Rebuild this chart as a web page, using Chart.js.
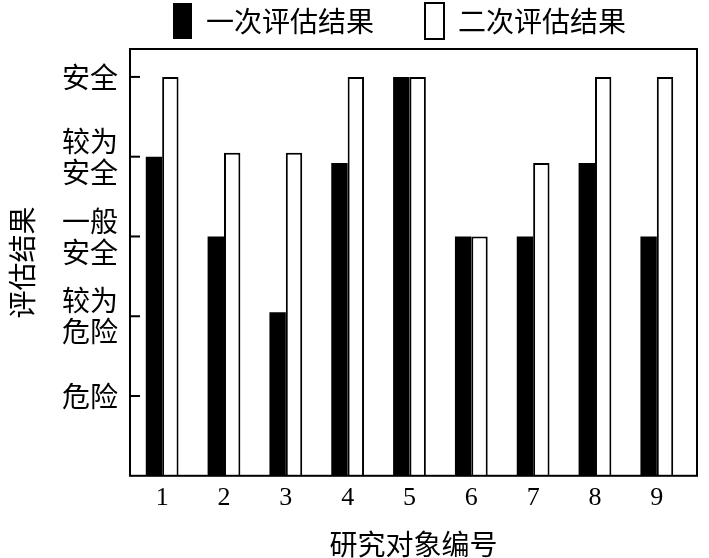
<!DOCTYPE html>
<html>
<head>
<meta charset="utf-8">
<script src="https://cdn.jsdelivr.net/npm/chart.js"></script>
<style>
    body { margin: 0; background: #fff; }
    #wrap { width: 709px; height: 558px; }
</style>
</head>
<body>
<div id="wrap"><canvas id="chart" width="709" height="558"></canvas></div>
<script>
// data
const categories = ['1', '2', '3', '4', '5', '6', '7', '8', '9'];
const firstEval = [4, 3, 2.05, 3.92, 5, 3, 3, 3.92, 3];
const secondEval = [5, 4.05, 4.05, 5, 5, 3, 3.92, 5, 5];
const levelLabels = ['危险', ['较为', '危险'], ['一般', '安全'], ['较为', '安全'], '安全'];
const seriesNames = ['一次评估结果', '二次评估结果'];

const cjk = '"Noto Sans CJK SC", "Noto Sans", sans-serif';

// plot frame + tick marks pointing into the plot
const framePlugin = {
    id: 'frame',
    afterLayout(chart) {
        // legend sits a bit left of the plot's centre in the original
        chart.legend.left += 51;
        chart.legend.right += 51;
    },
    afterDraw(chart) {
        const { ctx, chartArea } = chart;
        const y = chart.scales.y;
        ctx.save();
        ctx.strokeStyle = '#000';
        ctx.lineWidth = 2;
        ctx.strokeRect(chartArea.left, chartArea.top, chartArea.right - chartArea.left, chartArea.bottom - chartArea.top);
        y.ticks.forEach((t) => {
            const py = y.getPixelForValue(t.value);
            ctx.beginPath();
            ctx.moveTo(chartArea.left, py);
            ctx.lineTo(chartArea.left + 10, py);
            ctx.stroke();
        });
        ctx.restore();
    },
};

const toPoints = (vals) => vals.map((v, i) => ({ x: Number(categories[i]), y: v }));

new Chart(document.getElementById('chart').getContext('2d'), {
    type: 'bar',
    data: {
        datasets: [
            {
                label: seriesNames[0],
                data: toPoints(firstEval),
                backgroundColor: '#000',
                borderWidth: 0,
            },
            {
                label: seriesNames[1],
                data: toPoints(secondEval),
                backgroundColor: '#fff',
                borderColor: '#000',
                borderWidth: 2,
            },
        ],
    },
    options: {
        responsive: false,
        animation: false,
        layout: { padding: { top: -48, left: 0, right: 12, bottom: 0 } },
        datasets: {
            bar: { barPercentage: 1, categoryPercentage: 0.53 },
        },
        plugins: {
            tooltip: { enabled: false },
            legend: {
                position: 'top',
                labels: {
                    color: '#000',
                    boxWidth: 19,
                    boxHeight: 36,
                    padding: 51,
                    font: { family: cjk, size: 28 },
                },
            },
        },
        scales: {
            x: {
                type: 'linear',
                offset: false,
                min: 0.48,
                max: 9.65,
                afterBuildTicks: (scale) => {
                    scale.ticks = categories.map((c) => ({ value: Number(c) }));
                },
                grid: { display: false, drawTicks: false },
                border: { display: false },
                ticks: {
                    autoSkip: false,
                    maxRotation: 0,
                    color: '#000',
                    padding: 7,
                    font: { family: '"Liberation Serif", serif', size: 26 },
                    callback: (v) => categories[v - 1],
                },
                title: {
                    display: true,
                    text: '研究对象编号',
                    color: '#000',
                    font: { family: cjk, size: 28, lineHeight: 1 },
                    padding: { top: 9, bottom: 0 },
                },
            },
            y: {
                min: 0,
                max: 5.35,
                afterBuildTicks: (scale) => {
                    scale.ticks = levelLabels.map((l, i) => ({ value: i + 1 }));
                },
                afterFit: (scale) => {
                    scale.width = 130;
                },
                grid: { display: false, drawTicks: false },
                border: { display: false },
                ticks: {
                    autoSkip: false,
                    color: '#000',
                    padding: 12,
                    font: { family: cjk, size: 28, lineHeight: 1.1 },
                    callback: (v) => levelLabels[v - 1],
                },
                title: {
                    display: true,
                    text: '评估结果',
                    color: '#000',
                    font: { family: cjk, size: 28, lineHeight: 1 },
                    padding: { top: 8, bottom: 26 },
                },
            },
        },
    },
    plugins: [framePlugin],
});
</script>
</body>
</html>
